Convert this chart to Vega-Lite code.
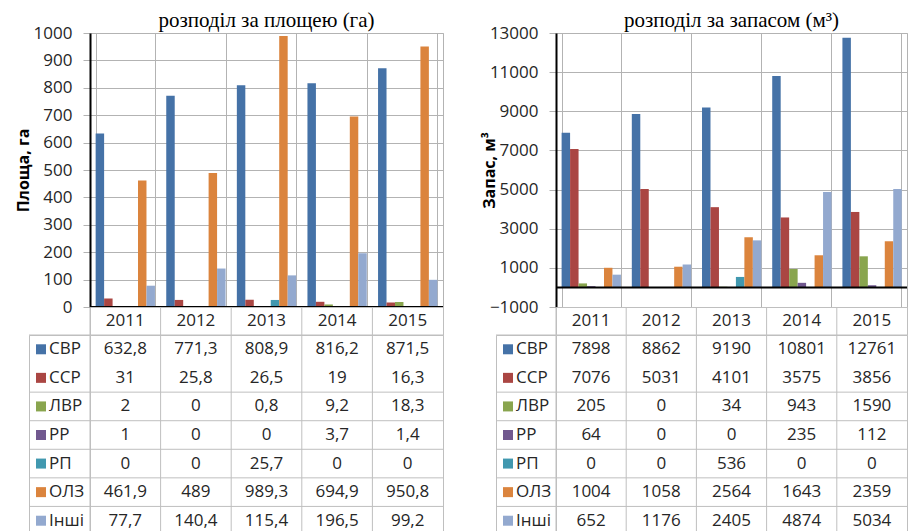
{
  "$schema": "https://vega.github.io/schema/vega-lite/v6.json",
  "background": "white",
  "padding": {"left": 14, "top": 9, "right": 0, "bottom": 0},
  "config": {
    "locale": {"number": {"decimal": ",", "thousands": " ", "grouping": [3], "currency": ["", ""]}},
    "font": "Open Sans",
    "view": {"stroke": null},
    "axis": {"labelFont": "Open Sans", "titleFont": "Open Sans"},
    "axisY": {"grid": true, "gridColor": "#b3b3b3", "labelOverlap": false, "labelFontSize": 17, "labelColor": "#262626", "labelPadding": 11, "tickSize": 7, "tickColor": "#b3b3b3", "domainColor": "black", "domainWidth": 2, "titleFontSize": 16, "titleFontWeight": "bold", "titleColor": "black", "format": "d"},
    "text": {"font": "Open Sans"},
    "title": {"font": "Liberation Serif", "fontSize": 21, "fontWeight": "normal", "color": "black", "offset": -7}
  },
  "datasets": {
    "area": [
      {"year": 2011, "series": "СВР", "value": 632.8}, {"year": 2012, "series": "СВР", "value": 771.3}, {"year": 2013, "series": "СВР", "value": 808.9}, {"year": 2014, "series": "СВР", "value": 816.2}, {"year": 2015, "series": "СВР", "value": 871.5},
      {"year": 2011, "series": "ССР", "value": 31}, {"year": 2012, "series": "ССР", "value": 25.8}, {"year": 2013, "series": "ССР", "value": 26.5}, {"year": 2014, "series": "ССР", "value": 19}, {"year": 2015, "series": "ССР", "value": 16.3},
      {"year": 2011, "series": "ЛВР", "value": 2}, {"year": 2012, "series": "ЛВР", "value": 0}, {"year": 2013, "series": "ЛВР", "value": 0.8}, {"year": 2014, "series": "ЛВР", "value": 9.2}, {"year": 2015, "series": "ЛВР", "value": 18.3},
      {"year": 2011, "series": "РР", "value": 1}, {"year": 2012, "series": "РР", "value": 0}, {"year": 2013, "series": "РР", "value": 0}, {"year": 2014, "series": "РР", "value": 3.7}, {"year": 2015, "series": "РР", "value": 1.4},
      {"year": 2011, "series": "РП", "value": 0}, {"year": 2012, "series": "РП", "value": 0}, {"year": 2013, "series": "РП", "value": 25.7}, {"year": 2014, "series": "РП", "value": 0}, {"year": 2015, "series": "РП", "value": 0},
      {"year": 2011, "series": "ОЛЗ", "value": 461.9}, {"year": 2012, "series": "ОЛЗ", "value": 489}, {"year": 2013, "series": "ОЛЗ", "value": 989.3}, {"year": 2014, "series": "ОЛЗ", "value": 694.9}, {"year": 2015, "series": "ОЛЗ", "value": 950.8},
      {"year": 2011, "series": "Інші", "value": 77.7}, {"year": 2012, "series": "Інші", "value": 140.4}, {"year": 2013, "series": "Інші", "value": 115.4}, {"year": 2014, "series": "Інші", "value": 196.5}, {"year": 2015, "series": "Інші", "value": 99.2}
    ],
    "stock": [
      {"year": 2011, "series": "СВР", "value": 7898}, {"year": 2012, "series": "СВР", "value": 8862}, {"year": 2013, "series": "СВР", "value": 9190}, {"year": 2014, "series": "СВР", "value": 10801}, {"year": 2015, "series": "СВР", "value": 12761},
      {"year": 2011, "series": "ССР", "value": 7076}, {"year": 2012, "series": "ССР", "value": 5031}, {"year": 2013, "series": "ССР", "value": 4101}, {"year": 2014, "series": "ССР", "value": 3575}, {"year": 2015, "series": "ССР", "value": 3856},
      {"year": 2011, "series": "ЛВР", "value": 205}, {"year": 2012, "series": "ЛВР", "value": 0}, {"year": 2013, "series": "ЛВР", "value": 34}, {"year": 2014, "series": "ЛВР", "value": 943}, {"year": 2015, "series": "ЛВР", "value": 1590},
      {"year": 2011, "series": "РР", "value": 64}, {"year": 2012, "series": "РР", "value": 0}, {"year": 2013, "series": "РР", "value": 0}, {"year": 2014, "series": "РР", "value": 235}, {"year": 2015, "series": "РР", "value": 112},
      {"year": 2011, "series": "РП", "value": 0}, {"year": 2012, "series": "РП", "value": 0}, {"year": 2013, "series": "РП", "value": 536}, {"year": 2014, "series": "РП", "value": 0}, {"year": 2015, "series": "РП", "value": 0},
      {"year": 2011, "series": "ОЛЗ", "value": 1004}, {"year": 2012, "series": "ОЛЗ", "value": 1058}, {"year": 2013, "series": "ОЛЗ", "value": 2564}, {"year": 2014, "series": "ОЛЗ", "value": 1643}, {"year": 2015, "series": "ОЛЗ", "value": 2359},
      {"year": 2011, "series": "Інші", "value": 652}, {"year": 2012, "series": "Інші", "value": 1176}, {"year": 2013, "series": "Інші", "value": 2405}, {"year": 2014, "series": "Інші", "value": 4874}, {"year": 2015, "series": "Інші", "value": 5034}
    ]
  },
  "hconcat": [
    {
      "columns": 2, "spacing": 0, "bounds": "flush", "align": "each",
      "concat": [
        {"width": 61, "height": 274, "data": {"values": []}, "mark": "point", "encoding": {}},
        {
          "width": 353, "height": 274,
          "title": "розподіл за площею (га)",
          "view": {"stroke": "#b3b3b3"},
          "layer": [
            {
              "data": {"name": "area"},
              "mark": {"type": "bar"},
              "encoding": {
                "x": {"field": "year", "type": "ordinal", "scale": {"paddingInner": 0.16, "paddingOuter": 0.08},
                      "axis": {"title": null, "labels": false, "ticks": false, "domain": false, "grid": true, "gridColor": "#b3b3b3", "tickBand": "extent"}},
                "xOffset": {"field": "series", "type": "nominal", "sort": ["СВР", "ССР", "ЛВР", "РР", "РП", "ОЛЗ", "Інші"], "scale": {"paddingInner": 0, "paddingOuter": 0}},
                "y": {"field": "value", "type": "quantitative", "scale": {"domain": [0, 1000], "nice": false},
                      "axis": {"title": "Площа, га", "titlePadding": 2, "grid": true, "labelOverlap": false,
                               "values": [0, 100, 200, 300, 400, 500, 600, 700, 800, 900, 1000]}},
                "color": {"field": "series", "type": "nominal", "legend": null,
                          "scale": {"domain": ["СВР", "ССР", "ЛВР", "РР", "РП", "ОЛЗ", "Інші"], "range": ["#4572A7", "#AA4643", "#89A54E", "#71588F", "#4198AF", "#DB843D", "#93A9CF"]}}
              }
            },
            {
              "data": {"values": [{}]},
              "mark": {"type": "rule", "color": "black", "strokeWidth": 2},
              "encoding": {"y": {"datum": 0, "type": "quantitative",
                                 "axis": {"title": "Площа, га", "titlePadding": 2, "grid": true, "labelOverlap": false,
                                          "values": [0, 100, 200, 300, 400, 500, 600, 700, 800, 900, 1000]}}}
            }
          ]
        },
        {"width": 61, "height": 28, "data": {"values": []}, "mark": "point", "encoding": {}},
        {
          "width": 353, "height": 28,
          "data": {"name": "area"},
          "transform": [{"filter": "datum.series == 'СВР'"}],
          "view": {"stroke": "#bfbfbf"},
          "layer": [
            {"mark": {"type": "rule", "color": "#bfbfbf"},
             "encoding": {"x": {"field": "year", "type": "ordinal", "bandPosition": 0, "scale": {"paddingInner": 0, "paddingOuter": 0}, "axis": null}}},
            {"mark": {"type": "text", "fontSize": 17, "color": "#262626"},
             "encoding": {"x": {"field": "year", "type": "ordinal"}, "text": {"field": "year", "type": "nominal"}}}
          ]
        },
        {
          "width": 61, "height": 200,
          "data": {"name": "area"},
          "transform": [{"filter": "datum.year == 2011"}],
          "view": {"stroke": "#bfbfbf"},
          "layer": [
            {"transform": [{"filter": "datum.series != 'ССР'"}],
             "mark": {"type": "rule", "color": "#bfbfbf"},
             "encoding": {"y": {"field": "series", "type": "nominal", "bandPosition": 0, "sort": ["СВР", "ССР", "ЛВР", "РР", "РП", "ОЛЗ", "Інші"], "scale": {"paddingInner": 0, "paddingOuter": 0}, "axis": null}}},
            {"mark": {"type": "square", "size": 100, "opacity": 1, "xOffset": -18.5},
             "encoding": {"y": {"field": "series", "type": "nominal", "sort": ["СВР", "ССР", "ЛВР", "РР", "РП", "ОЛЗ", "Інші"]},
                          "color": {"field": "series", "type": "nominal", "legend": null,
                                    "scale": {"domain": ["СВР", "ССР", "ЛВР", "РР", "РП", "ОЛЗ", "Інші"], "range": ["#4572A7", "#AA4643", "#89A54E", "#71588F", "#4198AF", "#DB843D", "#93A9CF"]}}}},
            {"mark": {"type": "text", "fontSize": 17, "color": "#262626", "align": "left", "dx": -10.5},
             "encoding": {"y": {"field": "series", "type": "nominal", "sort": ["СВР", "ССР", "ЛВР", "РР", "РП", "ОЛЗ", "Інші"]}, "text": {"field": "series", "type": "nominal"}}}
          ]
        },
        {
          "width": 353, "height": 200,
          "data": {"name": "area"},
          "view": {"stroke": "#bfbfbf"},
          "layer": [
            {"transform": [{"filter": "datum.series == 'СВР'"}],
             "mark": {"type": "rule", "color": "#bfbfbf"},
             "encoding": {"x": {"field": "year", "type": "ordinal", "bandPosition": 0, "scale": {"paddingInner": 0, "paddingOuter": 0}, "axis": null}}},
            {"transform": [{"filter": "datum.year == 2011 && datum.series != 'ССР'"}],
             "mark": {"type": "rule", "color": "#bfbfbf"},
             "encoding": {"y": {"field": "series", "type": "nominal", "bandPosition": 0, "sort": ["СВР", "ССР", "ЛВР", "РР", "РП", "ОЛЗ", "Інші"], "scale": {"paddingInner": 0, "paddingOuter": 0}, "axis": null}}},
            {"mark": {"type": "text", "fontSize": 17, "color": "#262626"},
             "encoding": {"x": {"field": "year", "type": "ordinal"},
                          "y": {"field": "series", "type": "nominal", "sort": ["СВР", "ССР", "ЛВР", "РР", "РП", "ОЛЗ", "Інші"]},
                          "text": {"field": "value", "type": "quantitative", "format": "~f"}}}
          ]
        }
      ]
    },
    {
      "columns": 2, "spacing": 0, "bounds": "flush", "align": "each",
      "concat": [
        {"width": 60, "height": 274, "data": {"values": []}, "mark": "point", "encoding": {}},
        {
          "width": 351, "height": 274,
          "title": "розподіл за запасом (м³)",
          "view": {"stroke": "#b3b3b3"},
          "layer": [
            {
              "data": {"name": "stock"},
              "mark": {"type": "bar"},
              "encoding": {
                "x": {"field": "year", "type": "ordinal", "scale": {"paddingInner": 0.16, "paddingOuter": 0.08},
                      "axis": {"title": null, "labels": false, "ticks": false, "domain": false, "grid": true, "gridColor": "#b3b3b3", "tickBand": "extent"}},
                "xOffset": {"field": "series", "type": "nominal", "sort": ["СВР", "ССР", "ЛВР", "РР", "РП", "ОЛЗ", "Інші"], "scale": {"paddingInner": 0, "paddingOuter": 0}},
                "y": {"field": "value", "type": "quantitative", "scale": {"domain": [-1000, 13000], "nice": false},
                      "axis": {"title": "Запас, м³", "titlePadding": -8, "grid": true, "labelOverlap": false,
                               "values": [-1000, 1000, 3000, 5000, 7000, 9000, 11000, 13000]}},
                "color": {"field": "series", "type": "nominal", "legend": null,
                          "scale": {"domain": ["СВР", "ССР", "ЛВР", "РР", "РП", "ОЛЗ", "Інші"], "range": ["#4572A7", "#AA4643", "#89A54E", "#71588F", "#4198AF", "#DB843D", "#93A9CF"]}}
              }
            },
            {
              "data": {"values": [{}]},
              "mark": {"type": "rule", "color": "black", "strokeWidth": 2},
              "encoding": {"y": {"datum": 0, "type": "quantitative",
                                 "axis": {"title": "Запас, м³", "titlePadding": -8, "grid": true, "labelOverlap": false,
                                          "values": [-1000, 1000, 3000, 5000, 7000, 9000, 11000, 13000]}}}
            }
          ]
        },
        {"width": 60, "height": 28, "data": {"values": []}, "mark": "point", "encoding": {}},
        {
          "width": 351, "height": 28,
          "data": {"name": "stock"},
          "transform": [{"filter": "datum.series == 'СВР'"}],
          "view": {"stroke": "#bfbfbf"},
          "layer": [
            {"mark": {"type": "rule", "color": "#bfbfbf"},
             "encoding": {"x": {"field": "year", "type": "ordinal", "bandPosition": 0, "scale": {"paddingInner": 0, "paddingOuter": 0}, "axis": null}}},
            {"mark": {"type": "text", "fontSize": 17, "color": "#262626"},
             "encoding": {"x": {"field": "year", "type": "ordinal"}, "text": {"field": "year", "type": "nominal"}}}
          ]
        },
        {
          "width": 60, "height": 200,
          "data": {"name": "stock"},
          "transform": [{"filter": "datum.year == 2011"}],
          "view": {"stroke": "#bfbfbf"},
          "layer": [
            {"transform": [{"filter": "datum.series != 'ССР'"}],
             "mark": {"type": "rule", "color": "#bfbfbf"},
             "encoding": {"y": {"field": "series", "type": "nominal", "bandPosition": 0, "sort": ["СВР", "ССР", "ЛВР", "РР", "РП", "ОЛЗ", "Інші"], "scale": {"paddingInner": 0, "paddingOuter": 0}, "axis": null}}},
            {"mark": {"type": "square", "size": 100, "opacity": 1, "xOffset": -18},
             "encoding": {"y": {"field": "series", "type": "nominal", "sort": ["СВР", "ССР", "ЛВР", "РР", "РП", "ОЛЗ", "Інші"]},
                          "color": {"field": "series", "type": "nominal", "legend": null,
                                    "scale": {"domain": ["СВР", "ССР", "ЛВР", "РР", "РП", "ОЛЗ", "Інші"], "range": ["#4572A7", "#AA4643", "#89A54E", "#71588F", "#4198AF", "#DB843D", "#93A9CF"]}}}},
            {"mark": {"type": "text", "fontSize": 17, "color": "#262626", "align": "left", "dx": -10},
             "encoding": {"y": {"field": "series", "type": "nominal", "sort": ["СВР", "ССР", "ЛВР", "РР", "РП", "ОЛЗ", "Інші"]}, "text": {"field": "series", "type": "nominal"}}}
          ]
        },
        {
          "width": 351, "height": 200,
          "data": {"name": "stock"},
          "view": {"stroke": "#bfbfbf"},
          "layer": [
            {"transform": [{"filter": "datum.series == 'СВР'"}],
             "mark": {"type": "rule", "color": "#bfbfbf"},
             "encoding": {"x": {"field": "year", "type": "ordinal", "bandPosition": 0, "scale": {"paddingInner": 0, "paddingOuter": 0}, "axis": null}}},
            {"transform": [{"filter": "datum.year == 2011 && datum.series != 'ССР'"}],
             "mark": {"type": "rule", "color": "#bfbfbf"},
             "encoding": {"y": {"field": "series", "type": "nominal", "bandPosition": 0, "sort": ["СВР", "ССР", "ЛВР", "РР", "РП", "ОЛЗ", "Інші"], "scale": {"paddingInner": 0, "paddingOuter": 0}, "axis": null}}},
            {"mark": {"type": "text", "fontSize": 17, "color": "#262626"},
             "encoding": {"x": {"field": "year", "type": "ordinal"},
                          "y": {"field": "series", "type": "nominal", "sort": ["СВР", "ССР", "ЛВР", "РР", "РП", "ОЛЗ", "Інші"]},
                          "text": {"field": "value", "type": "quantitative", "format": "~f"}}}
          ]
        }
      ]
    }
  ],
  "spacing": 35,
  "bounds": "full"
}
